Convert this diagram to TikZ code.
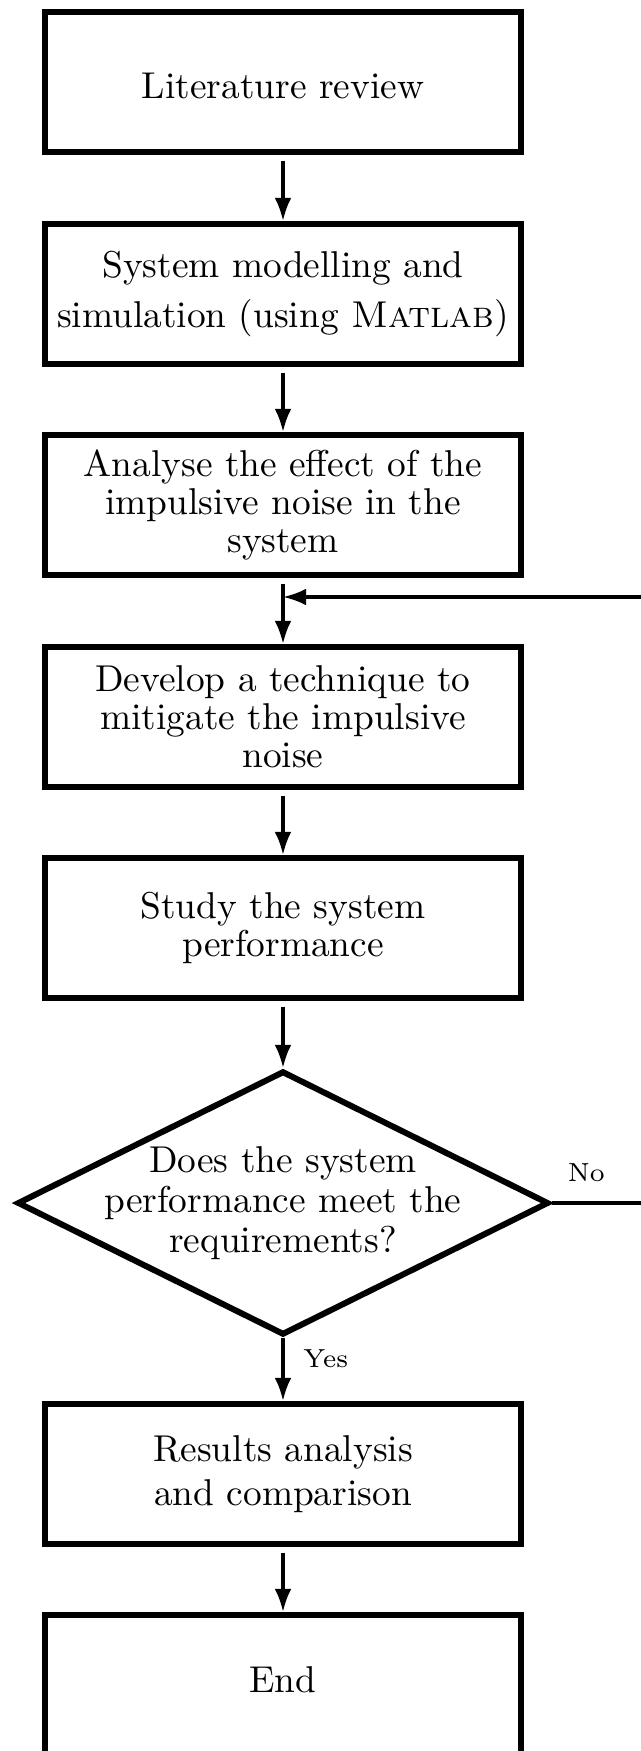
\documentclass[tikz,border=0pt]{standalone}
\usepackage{tikz}
\usetikzlibrary{arrows.meta,shapes.geometric}
\begin{document}
\begin{tikzpicture}[x=0.2677pt,y=-0.2677pt,
  font=\fontsize{10}{10.2}\selectfont,
  block/.style={draw, ultra thick, align=center, minimum width=127.4pt, minimum height=37.5pt, inner sep=2pt},
  decision/.style={diamond, draw, ultra thick, align=center, aspect=2, inner xsep=-8pt, inner ysep=0pt, minimum width=142.3pt, minimum height=70.7pt},
  line/.style={line width=0.9pt, -{Latex[length=6.2pt,width=4.5pt]}},
  lbl/.style={font=\scriptsize, inner sep=1pt}]
\path[use as bounding box, fill=white] (0,0) rectangle (641,1751);
\node[block, text height=9.2pt] (lit) at (283,82) {Literature review};
\node[block] (model) at (283,294) {System modelling and\\[3.2pt] simulation (using \textsc{Matlab})};
\node[block] (effect) at (283,505) {Analyse the effect of the\\ impulsive noise in the\\ system};
\node[block] (mitig) at (283,717) {Develop a technique to\\ mitigate the impulsive\\ noise};
\node[block] (perf) at (283,928) {Study the system\\ performance};
\node[decision] (meet) at (283,1203) {Does the system\\[0.5pt] performance meet the\\[0.5pt] requirements?};
\node[block] (result) at (283,1474) {Results analysis\\[1.7pt] and comparison};
\node[block, text depth=3pt] (end) at (283,1685) {End};
\coordinate (back) at (283,597);
\foreach \a/\b in {lit/model, model/effect, effect/mitig, mitig/perf, perf/meet, result/end}
  \draw[line, shorten <=1.5pt] (\a) -- (\b);
\draw[line] (meet) -- node[lbl, right=4pt, pos=0.33] (yes) {Yes} (result);
\draw[line] (meet.east) -- node[lbl, above=4.3pt, pos=0.23] (no) {No} ++(150,0) |- (back);
\end{tikzpicture}
\end{document}
